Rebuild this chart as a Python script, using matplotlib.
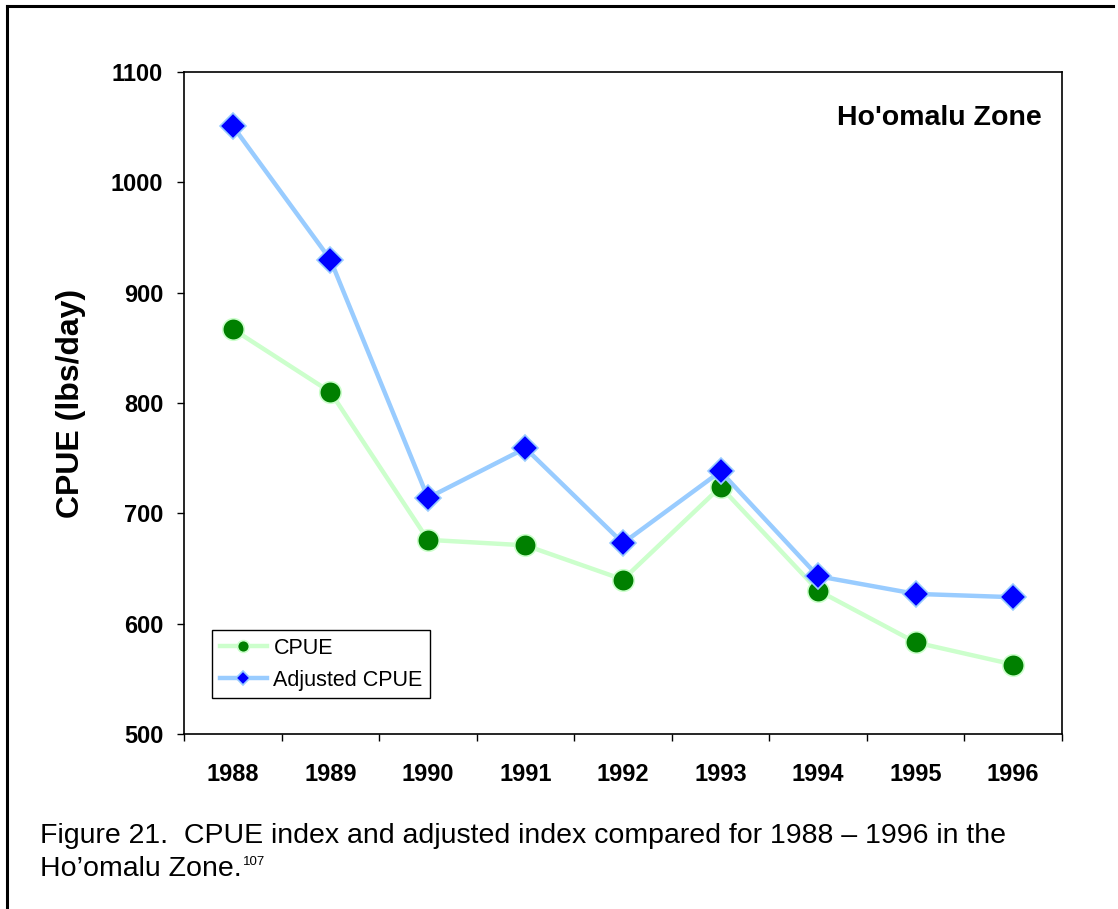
import numpy as np
import matplotlib; matplotlib.use("Agg")
import matplotlib.pyplot as plt
from matplotlib.lines import Line2D

plt.rcParams["font.family"] = ["Liberation Sans", "DejaVu Sans"]

years = ["1988", "1989", "1990", "1991", "1992", "1993", "1994", "1995", "1996"]
cpue = [867, 810, 676, 671, 640, 724, 630, 583, 563]
adj_cpue = [1051, 930, 714, 759, 673, 738, 643, 627, 624]
yticks = [500, 600, 700, 800, 900, 1000, 1100]

fig = plt.figure(figsize=(11.18, 9.09), dpi=100)
ax = fig.add_axes([0.1646, 0.1925, 0.7853, 0.7283])
x = np.arange(len(years))

ax.plot(x, cpue, color="#ccffcc", lw=3.2, marker="o", ms=15.5,
        mfc="#008000", mec="#ccffcc", mew=1.2, label="CPUE", zorder=3)
ax.plot(x, adj_cpue, color="#99ccff", lw=3.2, marker="D", ms=13,
        mfc="#0000ff", mec="#99ccff", mew=1.2, label="Adjusted CPUE", zorder=4)

ax.set_xlim(-0.5, len(years) - 0.5)
ax.set_ylim(500, 1100)
ax.set_yticks(yticks)
ax.set_yticklabels([str(v) for v in yticks], fontsize=17, fontweight="bold")
ax.set_xticks(x)
ax.set_xticklabels(years, fontsize=17, fontweight="bold")
ax.set_xticks(np.arange(len(years) + 1) - 0.5, minor=True)
ax.tick_params(axis="x", which="major", length=0, pad=21)
ax.tick_params(axis="x", which="minor", length=5, width=1, direction="out")
ax.tick_params(axis="y", length=5, width=1, direction="out", pad=10)
for s in ax.spines.values():
    s.set_linewidth(1.2)

ax.set_ylabel("CPUE (lbs/day)", fontsize=23, fontweight="bold", labelpad=18)
ax.text(0.977, 0.93, "Ho'omalu Zone", transform=ax.transAxes, ha="right", va="center",
        fontsize=20.5, fontweight="bold")

leg = ax.legend(loc="lower left", bbox_to_anchor=(0.032, 0.054), fontsize=15.5,
                frameon=True, fancybox=False, edgecolor="black", framealpha=1,
                markerscale=0.55, handlelength=2.2, handletextpad=0.3,
                borderpad=0.35, labelspacing=0.5, borderaxespad=0)
leg.get_frame().set_linewidth(1)

# page frame (left + top)
fig.add_artist(Line2D([7 / 1118, 7 / 1118], [0, 1 - 6 / 909], color="black", lw=2.2))
fig.add_artist(Line2D([7 / 1118, 1113 / 1118], [1 - 6 / 909, 1 - 6 / 909], color="black", lw=2.2))

cap = fig.text(40 / 1118, 1 - 843 / 909,
               "Figure 21.  CPUE index and adjusted index compared for 1988 \u2013 1996 in the",
               fontsize=20.5, va="baseline", ha="left")
cap2 = fig.text(40 / 1118, 1 - 876 / 909, "Ho\u2019omalu Zone.", fontsize=20.5,
                va="baseline", ha="left")
ax.annotate("107", xy=(1, 0.55), xycoords=cap2, fontsize=9.5, va="bottom", ha="left",
            xytext=(1, 0), textcoords="offset points")

fig.savefig("out.png")
